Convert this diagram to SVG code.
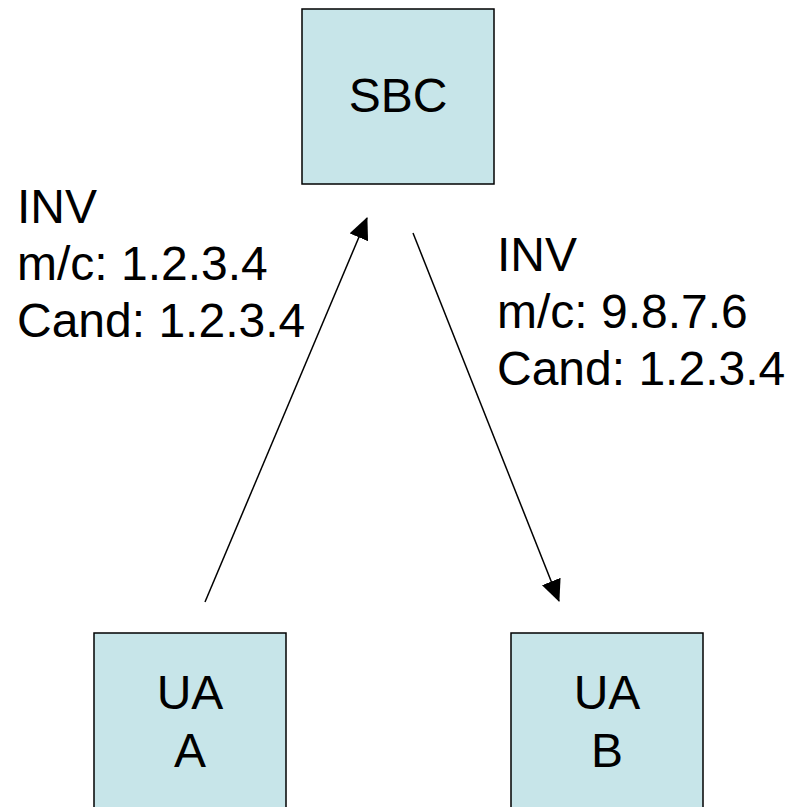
<svg xmlns="http://www.w3.org/2000/svg" width="791" height="807" viewBox="0 0 791 807">
  <style>
    .box { fill: #C7E5E9; stroke: #000; stroke-width: 1.5; }
    .lbl { font-family: "Liberation Sans", Arial, sans-serif; font-size: 48px; fill: #000; }
    .mid { text-anchor: middle; }
    .conn { stroke: #000; stroke-width: 1.5; fill: none; marker-end: url(#head); }
  </style>
  <defs>
    <marker id="head" markerUnits="userSpaceOnUse" viewBox="0 0 22 20" markerWidth="22" markerHeight="20" refX="21" refY="10" orient="auto">
      <path d="M0,0 L22,10 L0,20 z" fill="#000"/>
    </marker>
  </defs>
  <rect width="791" height="807" fill="#fff"/>

  <g id="sbc">
    <rect class="box" x="302" y="9" width="192" height="175"/>
    <text class="lbl mid" x="398" y="112">SBC</text>
  </g>

  <g id="ua-a">
    <rect class="box" x="94" y="633" width="192" height="190"/>
    <text class="lbl mid" x="190" y="709">UA</text>
    <text class="lbl mid" x="190" y="767">A</text>
  </g>

  <g id="ua-b">
    <rect class="box" x="511" y="633" width="192" height="190"/>
    <text class="lbl mid" x="607" y="709">UA</text>
    <text class="lbl mid" x="607" y="767">B</text>
  </g>

  <g id="connectors">
    <line class="conn" x1="205" y1="602" x2="367" y2="218"/>
    <line class="conn" x1="413" y1="233" x2="559" y2="601"/>
  </g>

  <g id="label-left">
    <text class="lbl" x="17" y="223">INV</text>
    <text class="lbl" x="17" y="280">m/c: 1.2.3.4</text>
    <text class="lbl" x="17" y="337">Cand: 1.2.3.4</text>
  </g>

  <g id="label-right">
    <text class="lbl" x="497" y="271">INV</text>
    <text class="lbl" x="497" y="328">m/c: 9.8.7.6</text>
    <text class="lbl" x="497" y="385">Cand: 1.2.3.4</text>
  </g>
</svg>
